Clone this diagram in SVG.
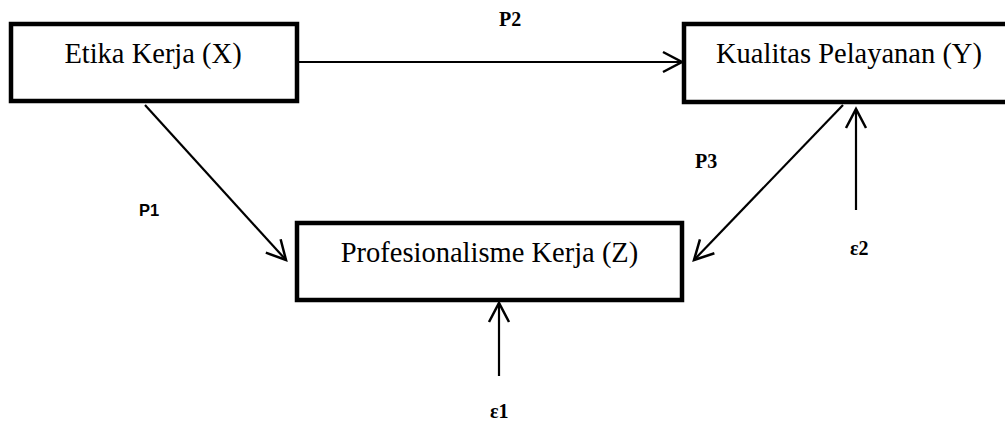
<svg xmlns="http://www.w3.org/2000/svg" width="1005" height="423" viewBox="0 0 1005 423">
<style>
.box{fill:#fff;stroke:#000;stroke-width:4.5}
.lbl{font-family:"Liberation Serif","Times New Roman",serif;font-size:28.5px;fill:#000;text-anchor:middle}
.p{font-family:"Liberation Serif","Times New Roman",serif;font-size:20px;font-weight:bold;fill:#000}
.ps{font-family:"Liberation Sans",Arial,sans-serif;font-size:16.5px;font-weight:bold;fill:#000}
.c{stroke:#000;stroke-width:2.2;fill:none;marker-end:url(#ah)}
</style>
<defs>
<marker id="ah" markerUnits="userSpaceOnUse" markerWidth="24" markerHeight="24" viewBox="0 0 24 24" refX="21" refY="12" orient="auto">
<path d="M2,2 L21,12 L2,22" fill="none" stroke="#000" stroke-width="2.5"/>
</marker>
</defs>
<rect width="1005" height="423" fill="#fff"/>
<g id="connectors">
<line class="c" x1="297" y1="62" x2="682" y2="62"/>
<line class="c" x1="145" y1="105" x2="286" y2="260"/>
<line class="c" x1="843" y1="105" x2="694" y2="260"/>
<line class="c" x1="856" y1="210" x2="856" y2="109"/>
<line class="c" x1="499" y1="376" x2="499" y2="303"/>
</g>
<g id="nodeX">
<rect class="box" x="11" y="24" width="286" height="77"/>
<text class="lbl" x="153" y="63">Etika Kerja (X)</text>
</g>
<g id="nodeY">
<rect class="box" x="684" y="24" width="330" height="78"/>
<text class="lbl" x="849" y="63">Kualitas Pelayanan (Y)</text>
</g>
<g id="nodeZ">
<rect class="box" x="297" y="223" width="385" height="77"/>
<text class="lbl" x="489.5" y="262">Profesionalisme Kerja (Z)</text>
</g>
<g id="labels">
<text class="p" x="499" y="26">P2</text>
<text class="ps" x="139" y="216">P1</text>
<text class="p" x="695" y="168">P3</text>
<text class="p" x="850" y="255">ε2</text>
<text class="p" x="490" y="418">ε1</text>
</g>
</svg>
